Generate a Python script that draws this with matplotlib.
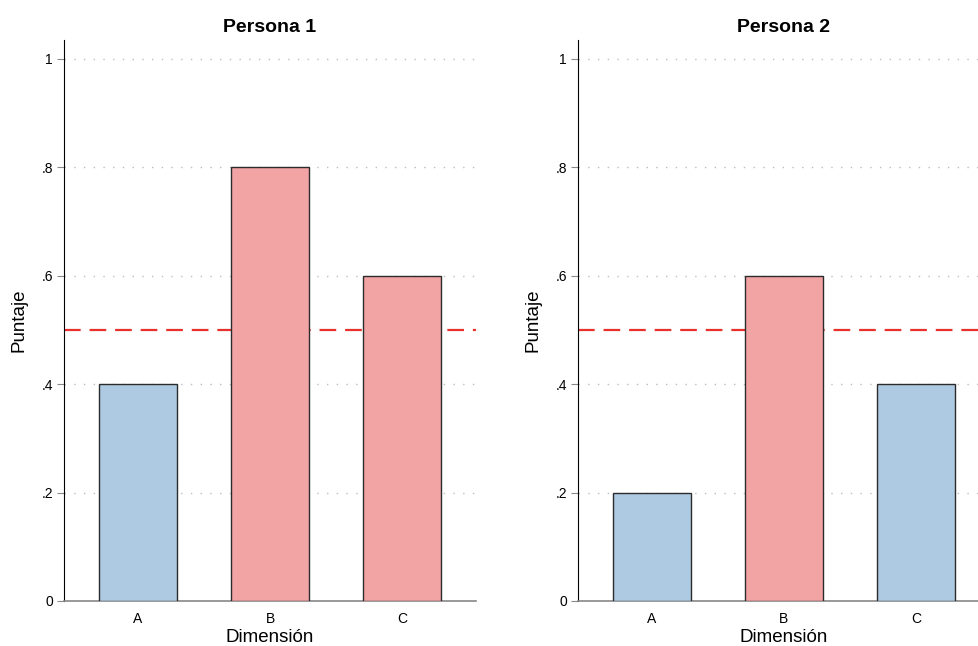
import matplotlib
matplotlib.use("Agg")
import matplotlib.pyplot as plt

plt.rcParams["font.family"] = ["Liberation Sans", "DejaVu Sans"]

# Data
dimensions = ["A", "B", "C"]
persona1_scores = [0.4, 0.8, 0.6]
persona2_scores = [0.2, 0.6, 0.4]
threshold = 0.5
titles = ["Persona 1", "Persona 2"]
y_ticks = [0, 0.2, 0.4, 0.6, 0.8, 1.0]
y_tick_labels = ["0", ".2", ".4", ".6", ".8", "1"]

BLUE = "#aecae3"
RED = "#f2a3a4"


def draw_panel(ax, scores, title):
    positions = list(range(1, len(dimensions) + 1))
    colors = [RED if s > threshold else BLUE for s in scores]
    ax.bar(positions, scores, width=0.59, color=colors, edgecolor="#2b2b2b",
           linewidth=1.0, zorder=3)
    for y in y_ticks[1:]:
        ax.axhline(y, color="#bdbdbd", linestyle=(0, (1, 6)), linewidth=1.0, zorder=1)
    ax.axhline(threshold, color="#e8312d", linestyle=(0, (7.5, 4)), linewidth=1.6, zorder=2)

    ax.set_xlim(0.44, 3.56)
    ax.set_ylim(0, 1.035)
    ax.set_xticks(positions)
    ax.set_xticklabels(dimensions)
    ax.set_yticks(y_ticks)
    ax.set_yticklabels(y_tick_labels)
    ax.tick_params(axis="x", length=0, pad=8, labelsize=10)
    ax.tick_params(axis="y", length=5, color="#888888", labelsize=10, pad=3)

    ax.spines["top"].set_visible(False)
    ax.spines["right"].set_visible(False)
    ax.spines["left"].set_color("black")
    ax.spines["bottom"].set_color("#888888")
    ax.spines["bottom"].set_linewidth(1.2)

    ax.set_title(title, fontsize=14, fontweight="bold", pad=6)
    ax.set_xlabel("Dimensión", fontsize=13.5, labelpad=2)
    ax.set_ylabel("Puntaje", fontsize=13.5, labelpad=10)


fig = plt.figure(figsize=(9.79, 6.46), dpi=100)
ax1 = fig.add_axes([0.0654, 0.0697, 0.4208, 0.8684])
ax2 = fig.add_axes([0.5904, 0.0697, 0.4208, 0.8684])

draw_panel(ax1, persona1_scores, titles[0])
draw_panel(ax2, persona2_scores, titles[1])

fig.savefig("out.png", dpi=100, facecolor="white")
